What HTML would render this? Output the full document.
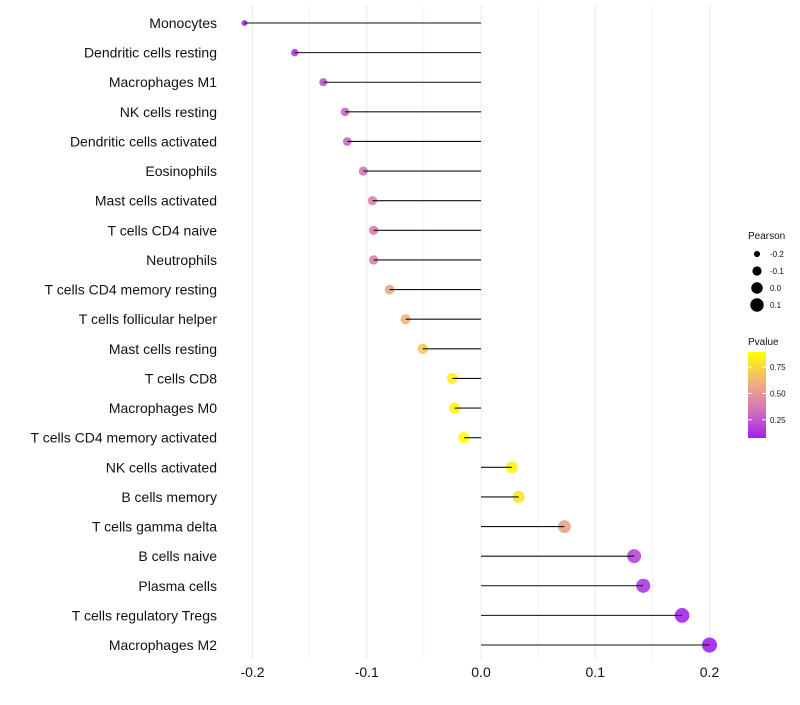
<!DOCTYPE html>
<html><head><meta charset="utf-8"><style>
body{margin:0;background:#fff;font-family:"Liberation Sans",sans-serif}
</style></head><body>
<svg id="c" width="800" height="700" xmlns="http://www.w3.org/2000/svg" style="white-space:pre"></svg>
<script>
const categories=["Monocytes","Dendritic cells resting","Macrophages M1","NK cells resting","Dendritic cells activated","Eosinophils","Mast cells activated","T cells CD4 naive","Neutrophils","T cells CD4 memory resting","T cells follicular helper","Mast cells resting","T cells CD8","Macrophages M0","T cells CD4 memory activated","NK cells activated","B cells memory","T cells gamma delta","B cells naive","Plasma cells","T cells regulatory  Tregs ","Macrophages M2"];
const pearson=[-0.207,-0.163,-0.138,-0.119,-0.117,-0.103,-0.095,-0.094,-0.094,-0.080,-0.066,-0.051,-0.025,-0.023,-0.015,0.027,0.033,0.073,0.134,0.142,0.176,0.200];
const pvalue=[0.08,0.15,0.25,0.3,0.3,0.35,0.4,0.4,0.4,0.55,0.62,0.7,0.85,0.86,0.89,0.85,0.8,0.55,0.2,0.15,0.1,0.08];
const xTicks=[-0.2,-0.1,0.0,0.1,0.2];
const sizeLegend=[-0.2,-0.1,0.0,0.1];
const colorTicks=[0.25,0.50,0.75];
const NS="http://www.w3.org/2000/svg";
const svg=document.getElementById('c');
function el(t,a,p){const e=document.createElementNS(NS,t);for(const k in a)e.setAttribute(k,a[k]);(p||svg).appendChild(e);return e;}
const x=v=>481+v*1142.5;
const y=i=>23+i*(622/21);
const r=v=>Math.sqrt(Math.max(4,33+118*v));
const pMin=0.077,pMax=0.894;
function lerp(a,b,t){return a.map((v,i)=>Math.round(v+(b[i]-v)*t));}
function col(p){let t=(p-pMin)/(pMax-pMin);t=Math.max(0,Math.min(1,t));
 const s=[[160,32,240],[210,120,185],[240,180,120],[255,255,0]];
 const seg=Math.min(2,Math.floor(t*3));const c=lerp(s[seg],s[seg+1],t*3-seg);return `rgb(${c})`;}
for(let v=-0.2;v<=0.2001;v+=0.05){const g=el('line',{x1:x(v),x2:x(v),y1:5,y2:660,stroke:'#ebebeb','stroke-width':Math.abs(Math.round(v*100)%10)<1?1:0.6});

}
xTicks.forEach(v=>{const t=el('text',{x:x(v),y:677,'text-anchor':'middle','font-size':14,fill:'#111'});t.textContent=v.toFixed(1);

});
categories.forEach((c,i)=>{
 const t=el('text',{x:217,y:y(i)+5,'text-anchor':'end','font-size':14,fill:'#111'});t.textContent=c;
 
 
 const d=el('circle',{cx:x(pearson[i]),cy:y(i),r:r(pearson[i]),fill:col(pvalue[i]),'fill-opacity':0.9});
 
 
 const l=el('line',{x1:x(pearson[i]),x2:x(0),y1:y(i),y2:y(i),stroke:'#111','stroke-width':1.1});
 
 
});
let t=el('text',{x:748,y:239,'font-size':10,fill:'#111'});t.textContent='Pearson';


sizeLegend.forEach((v,i)=>{const cy=254+i*17;
 const c=el('circle',{cx:757,cy:cy,r:r(v),fill:'#000'});
 
 
 const s=el('text',{x:770,y:cy+3,'font-size':8,fill:'#111'});s.textContent=v.toFixed(1);
 
 });
t=el('text',{x:748,y:345,'font-size':10,fill:'#111'});t.textContent='Pvalue';


const defs=el('defs',{});const lg=el('linearGradient',{id:'g',x1:0,y1:1,x2:0,y2:0},defs);
for(let k=0;k<=10;k++){el('stop',{offset:k/10,'stop-color':col(pMin+(pMax-pMin)*k/10)},lg);}
const bar=el('rect',{x:748,y:352,width:18,height:86,fill:'url(#g)'});


colorTicks.forEach(v=>{const cy=352+86*(1-(v-pMin)/(pMax-pMin));
 el('line',{x1:748,x2:752,y1:cy,y2:cy,stroke:'#fff'});el('line',{x1:762,x2:766,y1:cy,y2:cy,stroke:'#fff'});
 const s=el('text',{x:770,y:cy+3,'font-size':8,fill:'#111'});s.textContent=v.toFixed(2);
 
 });
</script>
</body></html>
